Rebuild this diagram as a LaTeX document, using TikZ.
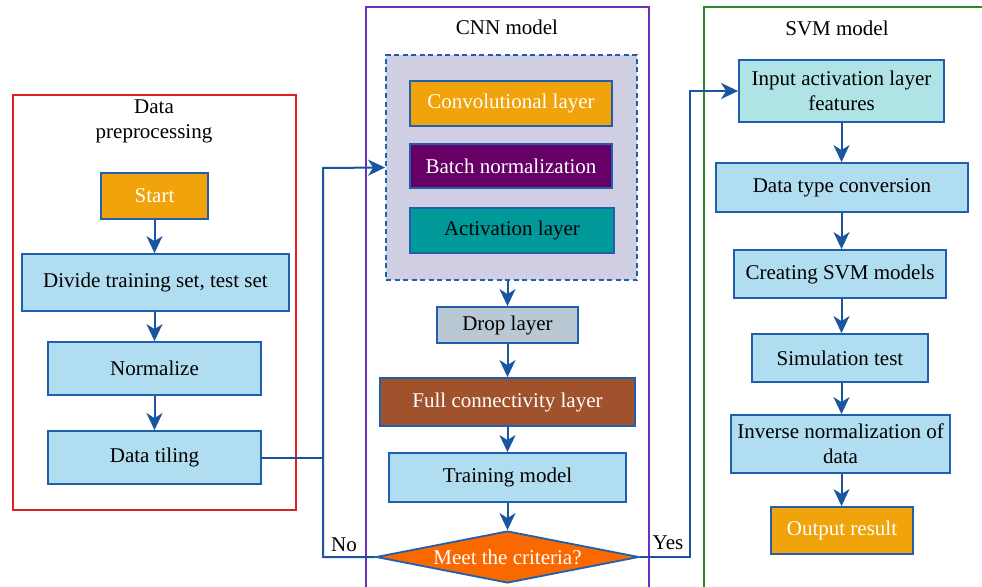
\documentclass[tikz,border=0pt]{standalone}
\usepackage{fontspec}
\setmainfont{Liberation Serif}
\usetikzlibrary{shapes.geometric,arrows.meta}
\definecolor{bdr}{HTML}{1F5FAD}
\definecolor{arrc}{HTML}{1A56A0}
\definecolor{lb}{HTML}{B1DDF0}
\definecolor{inpc}{HTML}{B0E3E6}
\definecolor{orng}{HTML}{F0A30A}
\definecolor{purp}{HTML}{660066}
\definecolor{teal2}{HTML}{009999}
\definecolor{dropc}{HTML}{BAC8D3}
\definecolor{fullc}{HTML}{A0522D}
\definecolor{diac}{HTML}{FA6800}
\definecolor{dashc}{HTML}{D0CEE2}
\definecolor{redp}{HTML}{E02020}
\definecolor{purpp}{HTML}{6B2FBF}
\definecolor{greenp}{HTML}{2D882D}
\tikzset{
  box/.style={draw=bdr, line width=1.8pt, fill=lb, inner sep=2pt, align=center, text=black},
  panel/.style={line width=1.4pt},
  arr/.style={draw=arrc, line width=2pt, -{Stealth[length=17pt,width=16pt,inset=5pt]}},
  lnk/.style={draw=arrc, line width=2pt},
  ttl/.style={align=center, inner sep=0pt}
}
\begin{document}
\begin{tikzpicture}[x=1pt,y=-1pt,font=\fontsize{21}{25}\selectfont]
\clip (0,0) rectangle (982,586);
\fill[white] (0,0) rectangle (982,586);
% panels
\draw[panel, draw=redp] (13,95) rectangle (296,510);
\draw[panel, draw=purpp] (366,7) rectangle (649,600);
\draw[panel, draw=greenp] (704,7) rectangle (1000,600);
\node[ttl] (t1) at (154,121) {Data\\preprocessing};
\node[ttl] (t2) at (507,27) {CNN model};
\node[ttl] (t3) at (837,28) {SVM model};
% left column
\node[box, fill=orng, text=white, minimum width=107pt, minimum height=46pt] (start) at (154.5,196) {Start};
\node[box, minimum width=267pt, minimum height=57pt] (divide) at (155.5,282.5) {Divide training set, test set};
\node[box, minimum width=213pt, minimum height=53pt] (norm) at (154.5,368.5) {Normalize};
\node[box, minimum width=213pt, minimum height=53pt] (tiling) at (154.5,457.5) {Data tiling};
% CNN column
\node[draw=bdr, dash pattern=on 5pt off 3.5pt, line width=1.8pt, fill=dashc, minimum width=251pt, minimum height=225pt] (dash) at (511.5,167.5) {};
\node[box, fill=orng, text=white, minimum width=202pt, minimum height=45pt] (conv) at (511,103.5) {Convolutional layer};
\node[box, fill=purp, text=white, minimum width=202pt, minimum height=44pt] (batch) at (511,166) {Batch normalization};
\node[box, fill=teal2, minimum width=204pt, minimum height=45pt] (act) at (512,230.5) {Activation layer};
\node[box, fill=dropc, minimum width=141pt, minimum height=36pt] (drop) at (507.5,325) {Drop layer};
\node[box, fill=fullc, text=white, minimum width=255pt, minimum height=48pt] (full) at (507.5,402) {Full connectivity layer};
\node[box, minimum width=237pt, minimum height=49pt] (train) at (507.5,477.5) {Training model};
\node[draw=bdr, line width=1.8pt, fill=diac, text=white, shape=diamond, inner sep=0pt, minimum width=263pt, minimum height=52pt] (crit) at (507.5,557) {\makebox[0pt]{Meet the criteria?}};
% SVM column
\node[box, fill=inpc, minimum width=205pt, minimum height=62pt] (input) at (841.5,91) {Input activation layer\\features};
\node[box, minimum width=252pt, minimum height=49pt] (dtype) at (842,187.5) {Data type conversion};
\node[box, minimum width=212pt, minimum height=48pt] (svm) at (840,274) {Creating SVM models};
\node[box, minimum width=176pt, minimum height=48pt] (sim) at (840,358) {Simulation test};
\node[box, minimum width=219pt, minimum height=58pt] (inv) at (840.5,444) {Inverse normalization of\\data};
\node[box, fill=orng, text=white, minimum width=142pt, minimum height=47pt] (out) at (842,530.5) {Output result};
% labels
\node[inner sep=0pt] (no) at (344,545) {No};
\node[inner sep=0pt] (yes) at (668,543) {Yes};
% arrows left
\draw[arr] (start.south) -- (start.south |- divide.north);
\draw[arr] (start.south |- divide.south) -- (start.south |- norm.north);
\draw[arr] (norm.south) -- (tiling.north);
% CNN arrows
\draw[arr] (dash.south -| drop.north) -- (drop.north);
\draw[arr] (drop.south) -- (full.north);
\draw[arr] (full.south) -- (train.north);
\draw[arr] (train.south) -- (crit.north);
% SVM arrows
\draw[arr] (input.south) -- (input.south |- dtype.north);
\draw[arr] (input.south |- dtype.south) -- (input.south |- svm.north);
\draw[arr] (input.south |- svm.south) -- (input.south |- sim.north);
\draw[arr] (input.south |- sim.south) -- (input.south |- inv.north);
\draw[arr] (input.south |- inv.south) -- (input.south |- out.north);
% loops
\coordinate (nl) at (323,557);
\coordinate (nt) at (323,168);
\draw[arr] (crit.west) -- (nl) -- (nt) -- (dash.west);
\draw[lnk] (tiling.east) -- (tiling.east -| nl);
\coordinate (yl) at (690,557);
\coordinate (yt) at (690,91);
\draw[arr] (crit.east) -- (yl) -- (yt) -- (input.west);
\end{tikzpicture}
\end{document}
